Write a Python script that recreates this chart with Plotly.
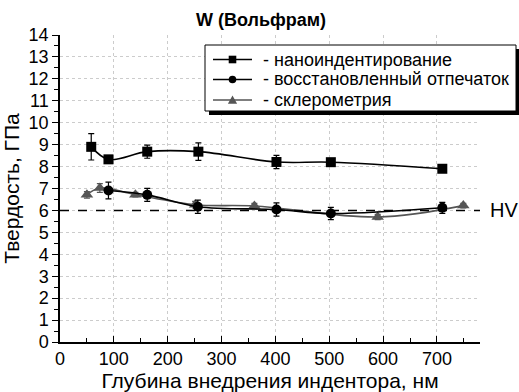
import plotly.graph_objects as go

# Data
nano_x = [58, 90, 162, 257, 402, 503, 710]
nano_y = [8.9, 8.33, 8.68, 8.68, 8.21, 8.2, 7.9]
nano_err = [0.6, 0.0, 0.3, 0.4, 0.3, 0.12, 0.0]

rest_x = [90, 162, 256, 402, 503, 710]
rest_y = [6.91, 6.71, 6.17, 6.04, 5.86, 6.12]
rest_err = [0.38, 0.3, 0.3, 0.3, 0.28, 0.25]

scl_x = [50, 74, 140, 251, 361, 590, 749]
scl_y = [6.71, 7.02, 6.72, 6.26, 6.2, 5.7, 6.22]
scl_err = [0.15, 0.2, 0.1, 0.15, 0.12, 0.12, 0.1]

hv_value = 6.0
x_ticks = [0, 100, 200, 300, 400, 500, 600, 700]
y_ticks = list(range(0, 15))

names = ["- наноиндентирование", "- восстановленный отпечаток", "- склерометрия"]

FONT = "Liberation Sans, Arial, sans-serif"
GRAY = "#555555"

W, H = 519, 392
ml, mr, mt, mb = 60, 39, 35, 50
pw, ph = W - ml - mr, H - mt - mb


def px(xp):
    return (xp - ml) / pw


def py(yp):
    return (H - mb - yp) / ph


fig = go.Figure()

fig.add_trace(go.Scatter(
    x=scl_x, y=scl_y, name=names[2], mode="lines+markers",
    line=dict(color=GRAY, width=1.6, shape="spline", smoothing=1.0),
    marker=dict(symbol="triangle-up", size=11, color=GRAY),
    error_y=dict(type="data", array=scl_err, color=GRAY, thickness=1.2, width=3),
))
fig.add_trace(go.Scatter(
    x=rest_x, y=rest_y, name=names[1], mode="lines+markers",
    line=dict(color="black", width=1.6, shape="spline", smoothing=1.0),
    marker=dict(symbol="circle", size=10, color="black"),
    error_y=dict(type="data", array=rest_err, color="black", thickness=1.2, width=3),
))
fig.add_trace(go.Scatter(
    x=nano_x, y=nano_y, name=names[0], mode="lines+markers",
    line=dict(color="black", width=1.6, shape="spline", smoothing=1.0),
    marker=dict(symbol="square", size=10, color="black"),
    error_y=dict(type="data", array=nano_err, color="black", thickness=1.2, width=3),
))

# HV line
fig.add_shape(type="line", xref="paper", yref="y", x0=0, x1=1, y0=hv_value, y1=hv_value,
              line=dict(color="black", width=1.6, dash="dash"))
fig.add_annotation(xref="paper", yref="y", x=px(488), y=hv_value, text="HV", showarrow=False,
                   xanchor="left", yanchor="middle", font=dict(size=20, color="black", family=FONT))

# Manual legend (box with shadow)
fig.add_shape(type="rect", xref="paper", yref="paper", layer="above",
              x0=px(209), x1=px(521), y0=py(115), y1=py(49),
              fillcolor="black", line=dict(width=0))
fig.add_shape(type="rect", xref="paper", yref="paper", layer="above",
              x0=px(205), x1=px(516), y0=py(111), y1=py(45),
              fillcolor="white", line=dict(color="black", width=1))

rows = [59.5, 79.5, 100]
colors = ["black", "black", GRAY]
for i, (ry, name, col) in enumerate(zip(rows, names, colors)):
    fig.add_shape(type="line", xref="paper", yref="paper", layer="above",
                  x0=px(213), x1=px(252), y0=py(ry), y1=py(ry),
                  line=dict(color=col, width=1.6))
    cx, r = 232.5, 3.8
    if i == 0:
        fig.add_shape(type="rect", xref="paper", yref="paper", layer="above",
                      x0=px(cx - r), x1=px(cx + r), y0=py(ry + r), y1=py(ry - r),
                      fillcolor=col, line=dict(width=0))
    elif i == 1:
        fig.add_shape(type="circle", xref="paper", yref="paper", layer="above",
                      x0=px(cx - r), x1=px(cx + r), y0=py(ry + r), y1=py(ry - r),
                      fillcolor=col, line=dict(width=0))
    else:
        path = "M {:.5f},{:.5f} L {:.5f},{:.5f} L {:.5f},{:.5f} Z".format(
            px(cx - 4.6), py(ry + 3.8), px(cx + 4.6), py(ry + 3.8), px(cx), py(ry - 4.6))
        fig.add_shape(type="path", xref="paper", yref="paper", layer="above", path=path,
                      fillcolor=col, line=dict(width=0))
    fig.add_annotation(xref="paper", yref="paper", x=px(261), y=py(ry), text=name,
                       showarrow=False, xanchor="left", yanchor="middle",
                       font=dict(size=18, family=FONT, color="black"))

fig.update_layout(
    width=W, height=H,
    margin=dict(l=ml, r=mr, t=mt, b=mb, autoexpand=False),
    paper_bgcolor="white", plot_bgcolor="white",
    font=dict(family=FONT, color="black"),
    title=dict(text="<b>W (Вольфрам)</b>", xref="paper", x=px(261), xanchor="center",
               yref="container", y=1 - 20 / H, yanchor="middle",
               font=dict(size=18, family=FONT, color="black")),
    showlegend=False,
    xaxis=dict(range=[0, 780], tickvals=x_ticks, ticks="inside", ticklen=6, tickwidth=1.3,
               tickcolor="black", showline=True, linecolor="black", linewidth=1.5,
               showgrid=True, gridcolor="#cccccc", griddash="dot", gridwidth=1,
               zeroline=False, tickfont=dict(size=18, family=FONT),
               minor=dict(dtick=50, ticks="inside", ticklen=4, tickcolor="black", showgrid=False),
               title=dict(text="Глубина внедрения индентора, нм", font=dict(size=21, family=FONT), standoff=1)),
    yaxis=dict(range=[0, 14], tickvals=y_ticks, ticks="outside", ticklen=6, tickwidth=1.3,
               tickcolor="black", showline=True, linecolor="black", linewidth=1.5,
               showgrid=True, gridcolor="#cccccc", griddash="dot", gridwidth=1,
               zeroline=False, tickfont=dict(size=18, family=FONT),
               minor=dict(dtick=0.5, ticks="outside", ticklen=4, tickcolor="black", showgrid=False),
               title=dict(text="Твердость, ГПа", font=dict(size=21, family=FONT), standoff=3)),
)

fig.write_html("out.html", config={"displayModeBar": False},
               post_script="document.body.style.margin='0';document.body.style.overflow='hidden';")
